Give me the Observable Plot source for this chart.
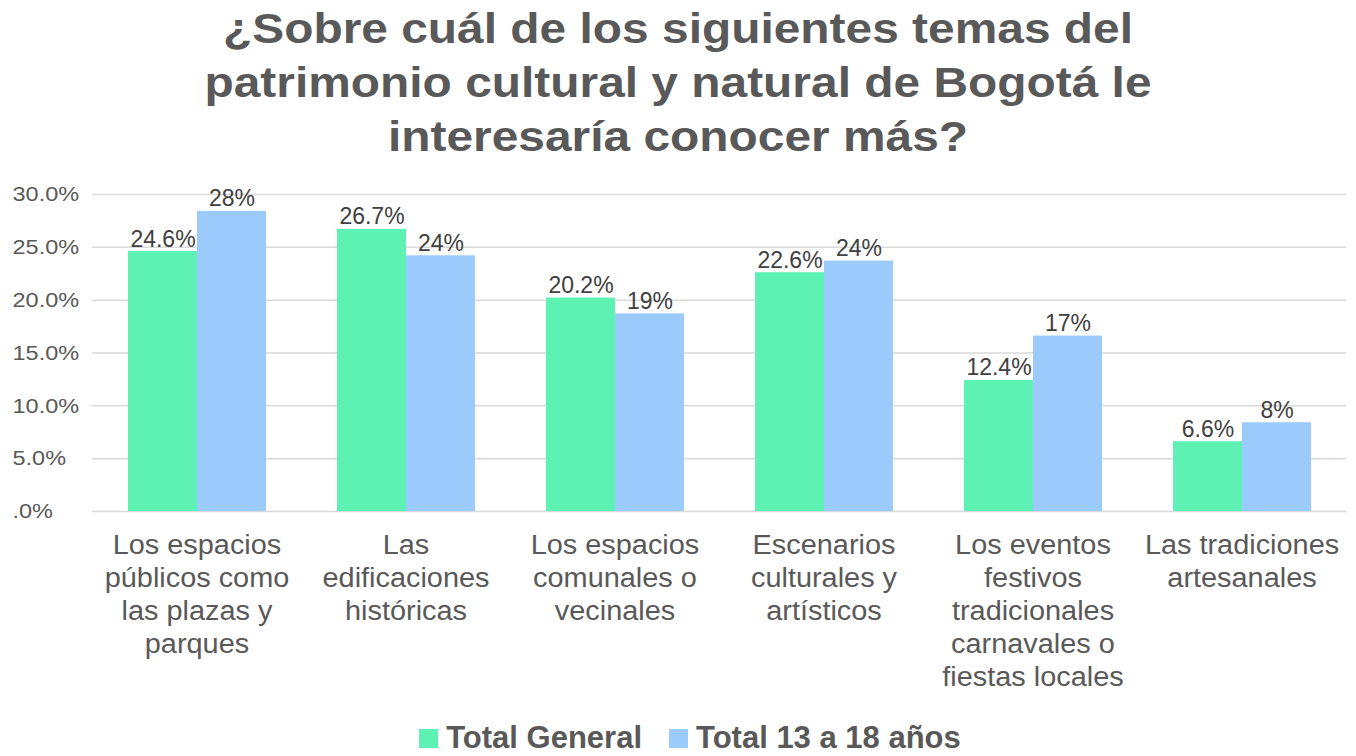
<!DOCTYPE html>
<html>
<head>
<meta charset="utf-8">
<script src="https://cdn.jsdelivr.net/npm/d3@7"></script>
<script src="https://cdn.jsdelivr.net/npm/@observablehq/plot@0.6"></script>
<style>
  body { margin: 0; background: #fff; width: 1356px; font-family: "Liberation Sans", Arial, sans-serif; }
  #title { padding-top: 2px; color: #595959; font-weight: bold; font-size: 42px; line-height: 54px; text-align: center; }
  #title div { transform: scaleX(1.14); transform-origin: 50% 50%; white-space: nowrap; }
  #legend { height: 36px; line-height: 36px; display: flex; justify-content: center; align-items: center; gap: 27px; padding-left: 24px; color: #595959; font-weight: bold; font-size: 31px; }
  #legend .item { display: flex; align-items: center; white-space: nowrap; }
  #legend .sw { width: 19px; height: 19px; margin-right: 8px; display: inline-block; }
</style>
</head>
<body>
<div id="title"></div>
<div id="chart"></div>
<div id="legend"></div>
<script>
const titleLines = [
  "¿Sobre cuál de los siguientes temas del",
  "patrimonio cultural y natural de Bogotá le",
  "interesaría conocer más?"
];
const categories = [
  "Los espacios públicos como las plazas y parques",
  "Las edificaciones históricas",
  "Los espacios comunales o vecinales",
  "Escenarios culturales y artísticos",
  "Los eventos festivos tradicionales carnavales o fiestas locales",
  "Las tradiciones artesanales"
];
const categoryLabels = [
  "Los espacios\npúblicos como\nlas plazas y\nparques",
  "Las\nedificaciones\nhistóricas",
  "Los espacios\ncomunales o\nvecinales",
  "Escenarios\nculturales y\nartísticos",
  "Los eventos\nfestivos\ntradicionales\ncarnavales o\nfiestas locales",
  "Las tradiciones\nartesanales"
];
const seriesNames = ["Total General", "Total 13 a 18 años"];
const seriesColors = ["#5df2b4", "#9bcbfd"];
const totalGeneral = [24.6, 26.7, 20.2, 22.6, 12.4, 6.6];
const total13a18 = [28.4, 24.2, 18.7, 23.7, 16.6, 8.4];
const yTicks = [0, 5, 10, 15, 20, 25, 30];
const yTickLabels = [".0%", "5.0%", "10.0%", "15.0%", "20.0%", "25.0%", "30.0%"];

// title
const titleEl = document.getElementById("title");
titleLines.forEach(t => { const d = document.createElement("div"); d.textContent = t; titleEl.appendChild(d); });

const rows = categories.flatMap((c, i) => [
  {cat: c, series: seriesNames[0], value: totalGeneral[i], label: totalGeneral[i].toFixed(1) + "%"},
  {cat: c, series: seriesNames[1], value: total13a18[i], label: Math.round(total13a18[i]) + "%"}
]);

const chart = Plot.plot({
  width: 1356,
  height: 556,
  marginTop: 30,
  marginBottom: 209,
  marginLeft: 90,
  marginRight: 8,
  style: {fontFamily: '"Liberation Sans", Arial, sans-serif', color: "#595959", background: "white", overflow: "visible"},
  fx: {domain: categories, padding: 0, axis: null},
  x: {domain: seriesNames, paddingInner: 0, paddingOuter: 0.5, axis: null},
  y: {domain: [0, 30], axis: null},
  color: {domain: seriesNames, range: seriesColors},
  marks: [
    Plot.gridY(yTicks, {stroke: "#d9d9d9", strokeOpacity: 1, strokeWidth: 1.5}),
    Plot.barY(rows, {fx: "cat", x: "series", y: "value", fill: "series", insetLeft: 0, insetRight: 0}),
    Plot.text(rows, {fx: "cat", x: "series", y: "value", text: "label", lineAnchor: "bottom", dy: -5, fontSize: 23, fill: "#404040", ariaLabel: "value label"}),
    Plot.axisY({ticks: yTicks, tickFormat: d => yTickLabels[yTicks.indexOf(d)], tickSize: 0, tickPadding: 0, textAnchor: "start", dx: -80, fontSize: 21, label: null, fill: "#595959"}),
    Plot.axisFx({anchor: "bottom", tickSize: 0, tickPadding: 19, fontSize: 27, lineHeight: 1.22, tickFormat: d => categoryLabels[categories.indexOf(d)], label: null, fill: "#595959"})
  ]
});

// emulate the slightly widened glyphs of the reference
function widen(sel, k) {
  chart.querySelectorAll(sel).forEach(t => {
    const tr = t.getAttribute("transform") || "";
    t.setAttribute("transform", tr + ` scale(${k},1)`);
  });
}
widen('g[aria-label="y-axis tick label"] text', 1.12);
widen('g[aria-label="fx-axis tick label"] text', 1.07);
widen('g[aria-label="value label"] text', 1.12);

document.getElementById("chart").appendChild(chart);

// legend
const legendEl = document.getElementById("legend");
seriesNames.forEach((s, i) => {
  const item = document.createElement("span");
  item.className = "item";
  const sw = document.createElement("span");
  sw.className = "sw";
  sw.style.background = seriesColors[i];
  item.appendChild(sw);
  item.appendChild(document.createTextNode(s));
  legendEl.appendChild(item);
});
</script>
</body>
</html>
